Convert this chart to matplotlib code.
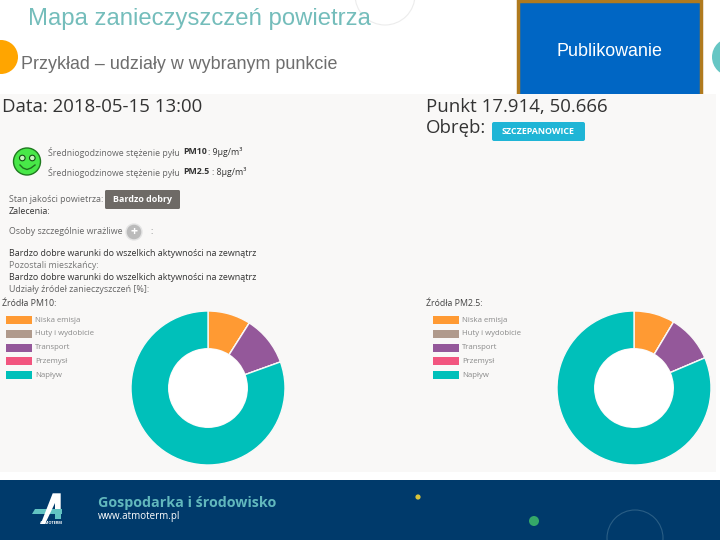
import matplotlib
matplotlib.use("Agg")
import matplotlib.pyplot as plt
from matplotlib.patches import Rectangle, Circle, Polygon, FancyBboxPatch

W, H = 720, 540

sources = ["Niska emisja", "Huty i wydobicie", "Transport", "Przemysł", "Napływ"]
source_colors = ["#FF9A33", "#B09A8C", "#94589A", "#F2557F", "#00C0BA"]
pm10_shares = [9, 0, 10.5, 0, 80.5]
pm25_shares = [8.6, 0, 10, 0, 81.4]

title = "Mapa zanieczyszczeń powietrza"
subtitle = "Przykład – udziały w wybranym punkcie"
button = "Publikowanie"

info_lines = [
    ("Stan jakości powietrza:", 9, 200, "#666666"),
    ("Zalecenia:", 9, 212, "#333333"),
    ("Osoby szczególnie wrażliwe", 9, 232, "#666666"),
    ("Bardzo dobre warunki do wszelkich aktywności na zewnątrz", 9, 253, "#333333"),
    ("Pozostali mieszkańcy:", 9, 265, "#777777"),
    ("Bardzo dobre warunki do wszelkich aktywności na zewnątrz", 9, 278, "#333333"),
    ("Udziały źródeł zanieczyszczeń [%]:", 9, 290, "#666666"),
]

fig = plt.figure(figsize=(W / 100, H / 100), dpi=100, facecolor="white")
bg = fig.add_axes([0, 0, 1, 1])
bg.set_xlim(0, W)
bg.set_ylim(H, 0)
bg.axis("off")

# slide furniture
bg.add_patch(Circle((385, -5), 30, fc="none", ec="#ECECEC", lw=0.8))
bg.add_patch(Circle((1, 57), 17, fc="#FFA500", ec="none"))
bg.add_patch(Circle((731, 57), 19, fc="#66C6C4", ec="none"))
bg.add_patch(Rectangle((518, 1), 183, 96, fc="#0066C4", ec="#B07A1E", lw=2.5))
bg.add_patch(Rectangle((0, 94), 716, 378, fc="#F9F8F7", ec="none", zorder=2))
bg.add_patch(Rectangle((0, 472), W, 8, fc="white", ec="none", zorder=2))
bg.text(28, 19, title, fontsize=17.2, color="#74BDBB", family="Liberation Sans", va="center")
bg.text(21, 64.5, subtitle, fontsize=12.9, color="#6E6E6E", family="Liberation Sans", va="center")
bg.text(609, 52, button, fontsize=12.9, color="white", family="Liberation Sans", ha="center", va="center")

# header of the screenshot
ui = dict(family="Open Sans", zorder=3, va="center")
bg.text(2, 107, "Data: 2018-05-15 13:00", fontsize=13.4, color="#333333", **ui)
bg.text(426, 107, "Punkt 17.914, 50.666", fontsize=13.4, color="#333333", **ui)
bg.text(426, 128, "Obręb:", fontsize=13.4, color="#333333", **ui)
bg.add_patch(FancyBboxPatch((492, 122), 93, 19, boxstyle="round,pad=0,rounding_size=2",
                            fc="#1FB5D6", ec="none", zorder=3))
bg.text(538.5, 131.5, "SZCZEPANOWICE", fontsize=6.4, color="white", ha="center",
        weight="bold", **ui)

# smiley
bg.add_patch(Circle((27, 161.5), 13.5, fc="#48E848", ec="#1F7A1F", lw=1, zorder=3))
bg.add_patch(Circle((22.3, 158), 2.8, fc="#C8F5C0", ec="#174F17", lw=0.8, zorder=4))
bg.add_patch(Circle((32.3, 158), 2.8, fc="#C8F5C0", ec="#174F17", lw=0.8, zorder=4))
bg.plot([20, 23, 27, 31, 35], [165, 168, 169.5, 168, 165], color="#1F6F1F", lw=1, zorder=4)

bg.text(48, 152, "Średniogodzinowe stężenie pyłu ", fontsize=6.3, color="#666666", **ui)
bg.text(183, 152, "PM10", fontsize=6.3, color="#333333", weight="bold", **ui)
bg.text(208, 152, ": 9µg/m³", fontsize=6.3, color="#333333", **ui)
bg.text(48, 172, "Średniogodzinowe stężenie pyłu ", fontsize=6.3, color="#666666", **ui)
bg.text(183, 172, "PM2.5", fontsize=6.3, color="#333333", weight="bold", **ui)
bg.text(212, 172, ": 8µg/m³", fontsize=6.3, color="#333333", **ui)

for txt, x, y, col in info_lines:
    bg.text(x, y, txt, fontsize=6.4, color=col, **ui)

bg.add_patch(FancyBboxPatch((105, 190), 75, 19, boxstyle="round,pad=0,rounding_size=1.5",
                            fc="#6E6A66", ec="none", zorder=3))
bg.text(142.5, 199.5, "Bardzo dobry", fontsize=6.4, color="white", weight="bold", ha="center", **ui)
bg.add_patch(Circle((134, 232), 8, fc="#BBBBBB", ec="#E4E4E4", lw=1, zorder=3))
bg.text(134, 232, "+", fontsize=9, color="white", weight="bold", ha="center", **ui)
bg.text(150, 232, ":", fontsize=6.25, color="#666666", **ui)

# the two doughnuts and their legends
bg.text(2, 303, "Źródła PM10:", fontsize=6.3, color="#444444", **ui)
bg.text(426, 303, "Źródła PM2.5:", fontsize=6.3, color="#444444", **ui)


def legend(x, text_x, y0=320, dy=13.8):
    for i, (name, col) in enumerate(zip(sources, source_colors)):
        y = y0 + i * dy
        bg.add_patch(Rectangle((x, y - 4), 26, 8, fc=col, ec="none", zorder=3))
        bg.text(text_x, y, name, fontsize=5.6, color="#8A8A8A", **ui)


def donut(cx, cy, r, shares):
    ax = fig.add_axes([(cx - r) / W, 1 - (cy + r) / H, 2 * r / W, 2 * r / H])
    ax.pie(shares, colors=source_colors, startangle=90, counterclock=False, radius=1,
           wedgeprops=dict(width=0.49, edgecolor="#F9F8F7", linewidth=1))
    ax.set_xlim(-1, 1)
    ax.set_ylim(-1, 1)
    ax.patch.set_alpha(0)
    # hole is plain white in the screenshot
    ax.add_patch(Circle((0, 0), 0.51, fc="white", ec="none"))


legend(6, 35)
legend(433, 462)
donut(208, 388, 77, pm10_shares)
donut(634, 388, 77, pm25_shares)

# footer
bg.add_patch(Rectangle((0, 480), W, 60, fc="#003A6B", ec="none", zorder=2))
bg.add_patch(Circle((635, 538), 28, fc="none", ec="#2A5E85", lw=0.8, zorder=3))
bg.add_patch(Circle((418, 497), 2.6, fc="#D8C43A", ec="none", zorder=3))
bg.add_patch(Circle((534, 521), 5, fc="#35A868", ec="none", zorder=3))
bg.add_patch(Polygon([[35, 509], [61.7, 509], [61.7, 514.3], [31.7, 514.3]], fc="#62C3C2", ec="none", zorder=3))
bg.add_patch(Rectangle((55, 514), 5.7, 4.5, fc="#62C3C2", ec="none", zorder=3))
bg.add_patch(Polygon([[40.7, 524], [52.7, 493.3], [60.7, 493.3], [60.7, 509], [55, 509], [55, 503], [45, 524]],
                     fc="white", ec="none", zorder=4))
bg.text(50.5, 523, "ATMOTERM", fontsize=2.8, color="white", ha="center", weight="bold", **ui)
bg.text(98, 503, "Gospodarka i środowisko", fontsize=10.3, color="#62B8BD", weight="bold", **ui)
bg.text(98, 517, "www.atmoterm.pl", fontsize=7.0, color="white", **ui)

fig.savefig("out.png", dpi=100)
